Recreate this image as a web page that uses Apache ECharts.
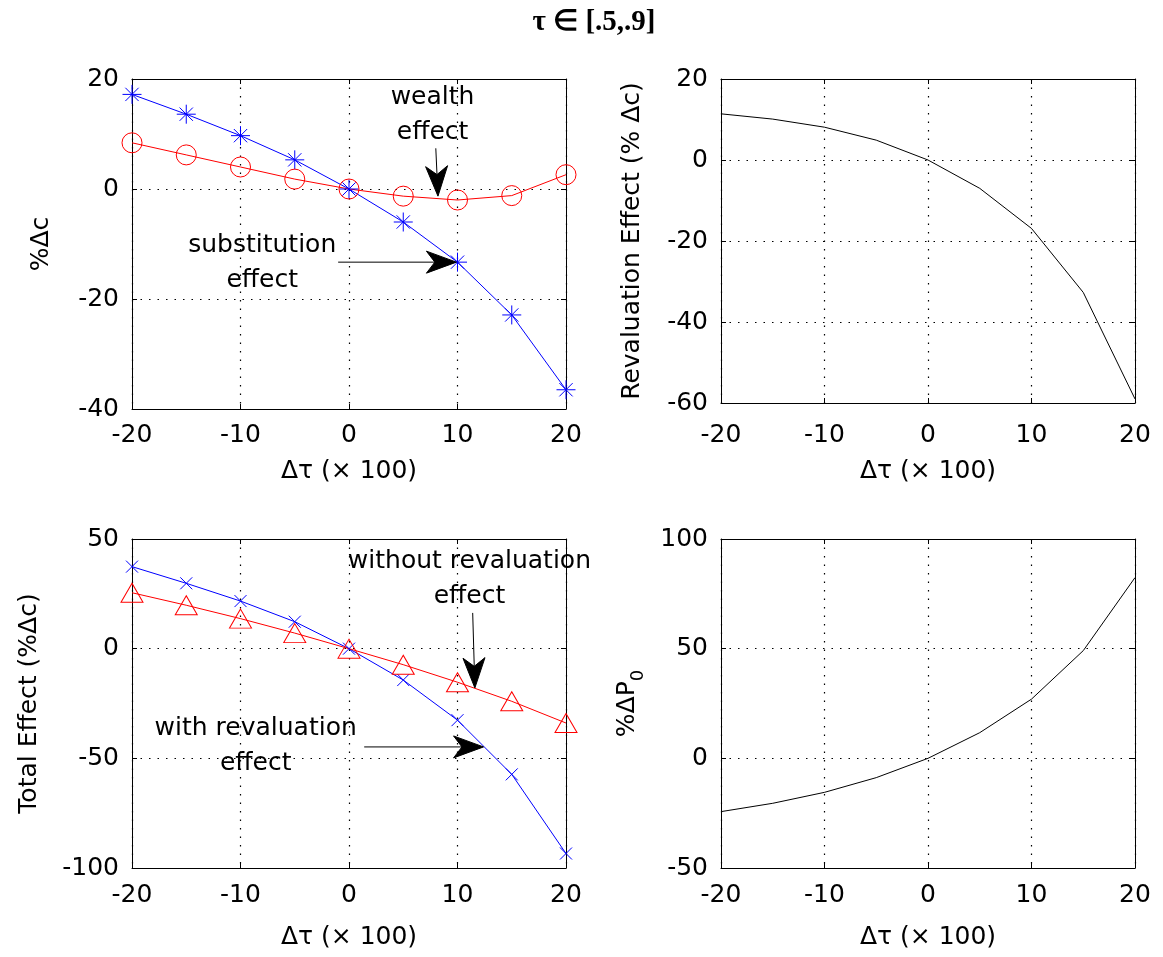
<!DOCTYPE html>
<html><head><meta charset="utf-8">
<script src="https://cdn.jsdelivr.net/npm/echarts@6/dist/echarts.min.js"></script>
<style>html,body{margin:0;padding:0;background:#fff}#c{width:1163px;height:957px}</style>
</head><body><div id="c"></div>
<script>
// ---- data ----
const dTau = [-20, -15, -10, -5, 0, 5, 10, 15, 20];
const substitutionEffect = [17.2, 13.6, 9.7, 5.3, 0, -6.0, -13.3, -22.9, -36.5];
const wealthEffect = [8.4, 6.2, 4.0, 1.8, 0, -1.3, -2.0, -1.2, 2.6];
const revaluationEffect = [11.4, 10.1, 8.1, 4.9, 0, -7.0, -16.9, -32.7, -59.0];
const totalWithReval = [37.4, 29.8, 21.7, 12.3, 0, -14.3, -32.6, -57.3, -93.4];
const totalWithoutReval = [25.5, 19.8, 13.7, 7.1, 0, -7.3, -15.3, -24.0, -33.9];
const pctDeltaP0 = [-24.3, -20.5, -15.5, -8.8, 0, 11.7, 27.0, 49.1, 82.4];
const xTickRange = [-20, 20, 10];            // min, max, step
const yTickRanges = [[-40, 20, 20], [-60, 20, 20], [-100, 50, 50], [-50, 100, 50]];
const titleText = 'τ ∈ [.5,.9]';
const xName = 'Δτ (× 100)';
const yNames = ['%Δc', 'Revaluation Effect (% Δc)', 'Total Effect (%Δc)', '%ΔP{sub|0}'];

const pairs = ys => dTau.map((x, i) => [x, ys[i]]);

// ---- layout ----
const FONT = 'DejaVu Sans';
const grids = [
  {left: 132, top: 79, width: 434, height: 330},
  {left: 721, top: 79, width: 414, height: 324},
  {left: 132, top: 539, width: 434, height: 329},
  {left: 721, top: 539, width: 414, height: 329}
];
const xLabelMargin = [14, 20, 15, 15];
const xNameGap = [50, 56, 57, 57];
const yNameGap = [78, 76, 90, 74];

const axLine = {show: true, onZero: false, lineStyle: {color: '#000', width: 1}};
const axTick = {show: true, inside: true, length: 5, lineStyle: {color: '#000', width: 1}};
const gridLine = {show: true, lineStyle: {color: '#000', width: 1.2, type: [1.5, 7]}};
const txt = {color: '#000', fontFamily: FONT, fontSize: 25};

const xAxis = [], yAxis = [];
grids.forEach((g, i) => {
  xAxis.push({
    type: 'value', gridIndex: i, position: 'bottom',
    min: xTickRange[0], max: xTickRange[1], interval: xTickRange[2],
    axisLine: axLine, axisTick: axTick, splitLine: gridLine,
    axisLabel: Object.assign({margin: xLabelMargin[i]}, txt),
    name: xName, nameLocation: 'middle', nameGap: xNameGap[i], nameTextStyle: txt
  });
  xAxis.push({
    type: 'value', gridIndex: i, position: 'top',
    min: xTickRange[0], max: xTickRange[1], interval: xTickRange[2],
    axisLine: axLine, axisTick: axTick, splitLine: {show: false}, axisLabel: {show: false}
  });
  const yr = yTickRanges[i];
  yAxis.push({
    type: 'value', gridIndex: i, position: 'left',
    min: yr[0], max: yr[1], interval: yr[2],
    axisLine: axLine, axisTick: axTick, splitLine: gridLine,
    axisLabel: Object.assign({margin: 13}, txt),
    name: yNames[i], nameLocation: 'middle', nameGap: yNameGap[i],
    nameTextStyle: Object.assign({
      rich: {sub: {fontFamily: FONT, fontSize: 18, color: '#000', verticalAlign: 'bottom', lineHeight: 40}}
    }, txt)
  });
  yAxis.push({
    type: 'value', gridIndex: i, position: 'right',
    min: yr[0], max: yr[1], interval: yr[2],
    axisLine: axLine, axisTick: axTick, splitLine: {show: false}, axisLabel: {show: false}
  });
});

const asterisk = 'path://M10,0L10,20M0,10L20,10M3,3L17,17M3,17L17,3';
const cross = 'path://M0,0L20,20M0,20L20,0';

const series = [
  {
    name: 'substitution', type: 'line', xAxisIndex: 0, yAxisIndex: 0,
    data: pairs(substitutionEffect), symbol: asterisk, symbolSize: 19,
    lineStyle: {color: '#0000ff', width: 1},
    itemStyle: {color: 'transparent', borderColor: '#0000ff', borderWidth: 1}
  },
  {
    name: 'wealth', type: 'line', xAxisIndex: 0, yAxisIndex: 0,
    data: pairs(wealthEffect), symbol: 'circle', symbolSize: 20,
    lineStyle: {color: '#ff0000', width: 1},
    itemStyle: {color: 'transparent', borderColor: '#ff0000', borderWidth: 1}
  },
  {
    name: 'revaluation', type: 'line', xAxisIndex: 2, yAxisIndex: 2,
    data: pairs(revaluationEffect), symbol: 'none',
    lineStyle: {color: '#000', width: 1}
  },
  {
    name: 'with revaluation', type: 'line', xAxisIndex: 4, yAxisIndex: 4,
    data: pairs(totalWithReval), symbol: cross, symbolSize: 12,
    lineStyle: {color: '#0000ff', width: 1},
    itemStyle: {color: 'transparent', borderColor: '#0000ff', borderWidth: 1}
  },
  {
    name: 'without revaluation', type: 'line', xAxisIndex: 4, yAxisIndex: 4,
    data: pairs(totalWithoutReval), symbol: 'triangle', symbolSize: [22, 19],
    lineStyle: {color: '#ff0000', width: 1},
    itemStyle: {color: 'transparent', borderColor: '#ff0000', borderWidth: 1}
  },
  {
    name: 'P0', type: 'line', xAxisIndex: 6, yAxisIndex: 6,
    data: pairs(pctDeltaP0), symbol: 'none',
    lineStyle: {color: '#000', width: 1}
  }
];

const chart = echarts.init(document.getElementById('c'), null, {renderer: 'canvas'});
chart.setOption({
  animation: false,
  backgroundColor: '#fff',
  grid: grids,
  xAxis, yAxis, series
});

// annotations in data coordinates (axes index = primary axis pair of the panel)
const notes = [
  {axes: 0, at: [7.7, 13.5], text: 'wealth\neffect'},
  {axes: 0, at: [-8.0, -13.5], text: 'substitution\neffect'},
  {axes: 4, at: [11.1, 31.8], text: 'without revaluation\neffect'},
  {axes: 4, at: [-8.6, -44.6], text: 'with revaluation\neffect'}
];
const arrows = [
  {axes: 0, from: [8.0, 7.4], to: [8.2, -1.3]},
  {axes: 0, from: [-1.0, -13.3], to: [9.9, -13.3]},
  {axes: 4, from: [11.4, 16.3], to: [11.6, -17.9]},
  {axes: 4, from: [1.4, -44.8], to: [12.4, -44.8]}
];
const px = (a, v) => chart.convertToPixel({xAxisIndex: a, yAxisIndex: a}, v);
const graphic = [];
notes.forEach(n => {
  const p = px(n.axes, n.at);
  graphic.push({
    type: 'text', x: p[0], y: p[1], silent: true, z: 100,
    style: {text: n.text, fill: '#000', font: '25px "DejaVu Sans"', lineHeight: 35,
            align: 'center', verticalAlign: 'middle'}
  });
});
const HEAD_L = 30, HEAD_W = 11, NOTCH = 0.72;
arrows.forEach(a => {
  const p0 = px(a.axes, a.from), p1 = px(a.axes, a.to);
  const dx = p1[0] - p0[0], dy = p1[1] - p0[1], len = Math.hypot(dx, dy);
  const ux = dx / len, uy = dy / len, nx = -uy, ny = ux;
  const bx = p1[0] - ux * HEAD_L, by = p1[1] - uy * HEAD_L;
  const mx = p1[0] - ux * HEAD_L * NOTCH, my = p1[1] - uy * HEAD_L * NOTCH;
  graphic.push({
    type: 'line', silent: true, z: 100,
    shape: {x1: p0[0], y1: p0[1], x2: mx, y2: my},
    style: {stroke: '#000', lineWidth: 1}
  });
  graphic.push({
    type: 'polygon', silent: true, z: 100,
    shape: {points: [[p1[0], p1[1]], [bx + nx * HEAD_W, by + ny * HEAD_W], [mx, my], [bx - nx * HEAD_W, by - ny * HEAD_W]]},
    style: {fill: '#000', stroke: '#000', lineWidth: 1}
  });
});
graphic.push({
  type: 'text', x: 594, y: 23, silent: true,
  style: {text: titleText, fill: '#000', font: 'bold 29px "Liberation Serif"',
          align: 'center', verticalAlign: 'middle'}
});
chart.setOption({graphic});
</script></body></html>
